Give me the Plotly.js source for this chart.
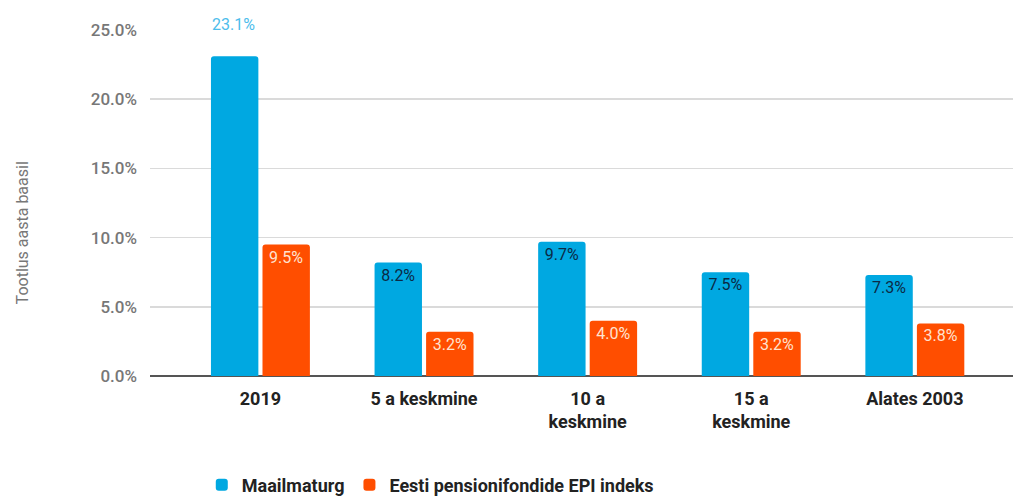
<!DOCTYPE html>
<html>
<head>
<meta charset="utf-8">
<script src="https://cdn.plot.ly/plotly-3.0.1.min.js"></script>
<style>
html,body{margin:0;padding:0;background:#fff;}
#chart{width:1013px;height:497px;}
</style>
</head>
<body>
<div id="chart"></div>
<script>
const categories = ["2019", "5 a keskmine", "10 a<br>keskmine", "15 a<br>keskmine", "Alates 2003"];
const seriesNames = ["Maailmaturg", "Eesti pensionifondide EPI indeks"];
const worldValues = [23.1, 8.2, 9.7, 7.5, 7.3];
const epiValues = [9.5, 3.2, 4.0, 3.2, 3.8];
const yTickValues = [0, 5, 10, 15, 20, 25];
const yTickLabels = ["0.0%", "5.0%", "10.0%", "15.0%", "20.0%", "25.0%"];
const yTitle = "Tootlus aasta baasil";

const blue = "#00A8E1";
const orange = "#FF4E00";

const fmt = v => v.toFixed(1) + "%";
// the 2019 world bar label sits above the bar
const worldInside = worldValues.map((v, i) => i === 0 ? "" : fmt(v));

const traces = [
  {
    type: "bar", name: seriesNames[0], x: categories, y: worldValues,
    marker: {color: blue},
    text: worldInside, textposition: "inside", insidetextanchor: "end",
    insidetextfont: {color: "#0B2A45", size: 16, family: "Roboto"},
    hoverinfo: "none"
  },
  {
    type: "bar", name: seriesNames[1], x: categories, y: epiValues,
    marker: {color: orange},
    text: epiValues.map(fmt), textposition: "inside", insidetextanchor: "end",
    insidetextfont: {color: "#FFE3D0", size: 16, family: "Roboto"},
    hoverinfo: "none"
  }
];

const layout = {
  width: 1013, height: 497,
  margin: {l: 150, r: 0, t: 30, b: 121, autoexpand: false},
  paper_bgcolor: "#fff", plot_bgcolor: "#fff",
  font: {family: "Roboto", color: "#222"},
  barmode: "group", bargap: 0.37, bargroupgap: 0.08, barcornerradius: 3,
  showlegend: true,
  legend: {
    orientation: "h", x: 0.06, xanchor: "left", y: -0.315, yanchor: "middle",
    font: {size: 18, color: "#222", family: "Roboto", weight: "bold"},
    itemwidth: 30, traceorder: "normal"
  },
  xaxis: {
    type: "category", range: [-0.675, 4.6], automargin: false,
    tickfont: {size: 18, color: "#222", family: "Roboto", weight: "bold"},
    showgrid: false, showline: false, zeroline: false, ticks: "",
    ticklabelstandoff: 10
  },
  yaxis: {
    range: [0, 25], tickvals: yTickValues, ticktext: yTickLabels, automargin: false,
    tickfont: {size: 17, color: "#777", family: "Roboto", weight: 500},
    gridcolor: "#DADADA", gridwidth: 1.5,
    zeroline: true, zerolinecolor: "#555", zerolinewidth: 2,
    ticks: "", ticklabelstandoff: 12
  },
  annotations: [
    {
      x: categories.indexOf("2019"), y: worldValues[0], xref: "x", yref: "y",
      xshift: -27, yshift: 20, yanchor: "bottom", showarrow: false,
      text: fmt(worldValues[0]),
      font: {size: 16, color: "#4DBDEB", family: "Roboto"}
    },
    {
      x: -0.148, y: 0.413, xref: "paper", yref: "paper",
      xanchor: "center", yanchor: "middle", textangle: -90, showarrow: false,
      text: yTitle,
      font: {size: 16, color: "#777", family: "Roboto"}
    }
  ]
};

Plotly.newPlot("chart", traces, layout, {displayModeBar: false, staticPlot: true});
</script>
</body>
</html>
